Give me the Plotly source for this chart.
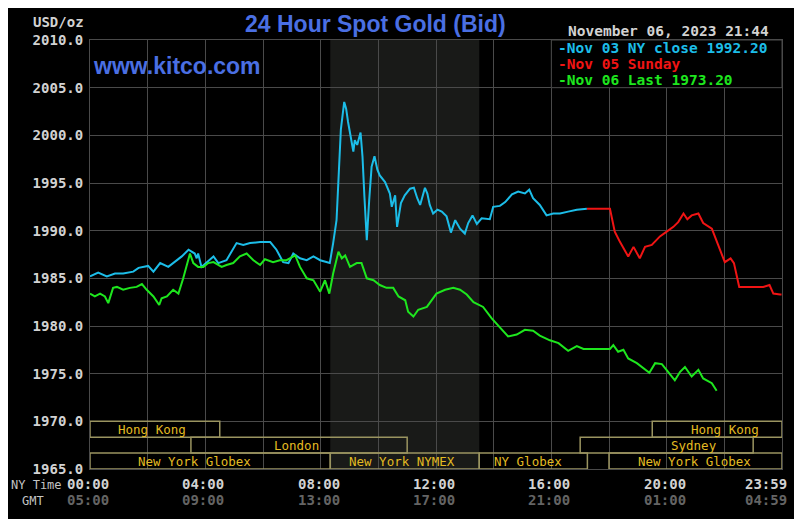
import plotly.graph_objects as go

# Times are minutes after midnight, New York time
NY_CLOSE_T = [0, 17, 35, 52, 69, 90, 101, 121, 132, 146, 163, 180, 191, 205, 218, 222, 225, 232,
              243, 257, 267, 284, 305, 319, 333, 354, 375, 388, 402, 413, 423, 437, 451, 465, 479,
              499, 506, 513, 517, 522, 529, 533, 537, 542, 548, 551, 556, 563, 567, 571, 576, 581,
              586, 592, 598, 603, 614, 624, 628, 635, 639, 647, 655, 666, 674, 681, 687, 697, 702,
              707, 714, 723, 732, 742, 751, 760, 770, 780, 787, 796, 805, 815, 832, 839, 853, 864,
              878, 891, 905, 914, 922, 936, 950, 964, 978, 995, 1013, 1034]
NY_CLOSE_V = [1985.2, 1985.6, 1985.2, 1985.5, 1985.5, 1985.7, 1986.1, 1986.3, 1985.7, 1986.6, 1986.2,
              1986.9, 1987.3, 1988.0, 1987.6, 1987.1, 1987.6, 1986.2, 1986.7, 1987.3, 1986.6, 1986.9,
              1988.7, 1988.5, 1988.7, 1988.8, 1988.8, 1988.0, 1986.7, 1986.6, 1987.6, 1987.1, 1986.9,
              1987.3, 1986.9, 1986.6, 1988.7, 1991.1, 1995.3, 2000.6, 2003.5, 2002.8, 2001.4, 1999.9,
              1998.3, 1999.5, 1999.0, 2000.3, 1997.8, 1993.6, 1989.0, 1993.2, 1996.7, 1997.8, 1996.4,
              1995.8, 1995.1, 1993.9, 1992.5, 1993.7, 1990.4, 1992.9, 1993.7, 1994.4, 1994.5, 1993.4,
              1992.7, 1994.5, 1993.9, 1992.7, 1991.8, 1992.2, 1992.0, 1991.5, 1989.8, 1991.1, 1990.2,
              1989.7, 1990.8, 1991.6, 1990.7, 1991.3, 1991.2, 1992.5, 1992.6, 1993.0, 1993.8, 1994.1,
              1993.9, 1994.3, 1993.4, 1992.7, 1991.6, 1991.8, 1991.8, 1992.0, 1992.2, 1992.3]

SUNDAY_T = [1034, 1082, 1092, 1103, 1120, 1131, 1144, 1155, 1169, 1186, 1200, 1214, 1224, 1235,
            1243, 1252, 1266, 1276, 1294, 1311, 1321, 1333, 1340, 1351, 1367, 1401, 1414, 1422,
            1436, 1439]
SUNDAY_V = [1992.3, 1992.3, 1989.9, 1988.8, 1987.3, 1988.3, 1987.1, 1988.3, 1988.5, 1989.4, 1989.9,
            1990.4, 1990.9, 1991.8, 1991.2, 1991.6, 1991.8, 1990.8, 1990.2, 1988.0, 1986.7, 1987.1,
            1986.6, 1984.1, 1984.1, 1984.1, 1984.3, 1983.4, 1983.3, 1983.3]

LAST_T = [0, 10, 21, 31, 38, 48, 56, 69, 83, 97, 108, 118, 132, 144, 149, 160, 173, 184, 194, 208,
          215, 225, 236, 246, 257, 274, 284, 298, 312, 326, 340, 354, 364, 381, 395, 409, 427, 437,
          451, 465, 479, 489, 498, 506, 517, 524, 531, 541, 555, 565, 576, 590, 603, 617, 631, 642,
          656, 662, 673, 683, 701, 721, 739, 756, 770, 784, 798, 818, 836, 853, 870, 888, 905, 922,
          936, 957, 975, 995, 1013, 1027, 1082, 1089, 1099, 1110, 1120, 1138, 1151, 1164, 1176,
          1190, 1203, 1217, 1228, 1238, 1252, 1266, 1276, 1294, 1304]
LAST_V = [1983.4, 1983.1, 1983.4, 1983.1, 1982.4, 1984.0, 1984.1, 1983.8, 1984.0, 1984.1, 1984.4,
          1983.8, 1983.1, 1982.2, 1982.9, 1983.1, 1983.8, 1983.4, 1985.0, 1987.6, 1986.6, 1986.2,
          1986.2, 1986.6, 1986.7, 1986.2, 1986.4, 1986.6, 1987.3, 1987.6, 1986.9, 1986.4, 1987.0,
          1986.7, 1986.9, 1986.9, 1987.4, 1986.2, 1985.0, 1984.8, 1983.6, 1984.8, 1983.4, 1985.5,
          1987.8, 1987.1, 1987.4, 1986.2, 1986.6, 1986.6, 1985.0, 1984.8, 1984.3, 1984.0, 1984.0,
          1983.1, 1982.7, 1981.5, 1981.0, 1981.7, 1982.0, 1983.4, 1983.8, 1984.0, 1983.8, 1983.3,
          1982.5, 1982.0, 1980.8, 1979.9, 1978.9, 1979.1, 1979.6, 1979.5, 1979.0, 1978.5, 1978.2,
          1977.4, 1977.9, 1977.6, 1977.6, 1978.0, 1977.3, 1977.5, 1976.6, 1976.1, 1975.6, 1975.1,
          1976.1, 1976.0, 1975.2, 1974.3, 1975.2, 1975.7, 1974.7, 1975.4, 1974.5, 1974.0, 1973.2]

SERIES_NAMES = ["Nov 03 NY close 1992.20", "Nov 05 Sunday", "Nov 06 Last 1973.20"]

# trading sessions: name, row (0 = bottom), start, end, where the label sits
SESSION_NAMES = ["Hong Kong", "Hong Kong", "London", "Sydney", "New York Globex",
                 "New York NYMEX", "NY Globex", "New York Globex"]
SESSION_ROW = [2, 2, 1, 1, 0, 0, 0, 0]
SESSION_START = [0, 1170, 210, 1020, 0, 500, 810, 1080]
SESSION_END = [270, 1440, 660, 1380, 500, 810, 1035, 1440]
SESSION_LABEL_AT = [128, 1322, 429, 1257, 217, 649, 911, 1257]

NYMEX_HOURS = (500, 810)

Y_TICKS = [1965, 1970, 1975, 1980, 1985, 1990, 1995, 2000, 2005, 2010]
X_TICKS = [0, 240, 480, 720, 960, 1200]
NY_LABELS = ["00:00", "04:00", "08:00", "12:00", "16:00", "20:00"]
GMT_LABELS = ["05:00", "09:00", "13:00", "17:00", "21:00", "01:00"]

MONO = "DejaVu Sans Mono"
GRID = "#4a4a4a"
COLORS = ["#1cbde8", "#f01414", "#1ee61e"]

# the page puts the figure 8px in from the top-left corner
OFF = 8
W, H = 788, 511
# plot area in page pixels: x 90..782, y 40..469
L, R, T, B = 90, 782, 40, 469


def px(x):
    return (x - L) / (R - L)


def py(y):
    return (B - y) / (B - T)


def note(x, y, text, font, xanchor="center", xref="paper", yref="paper", xshift=0):
    return dict(x=x, y=y, xref=xref, yref=yref, text=text, showarrow=False,
                xanchor=xanchor, yanchor="middle", xshift=xshift, font=font)


fig = go.Figure()
for t, v, c, name in zip([NY_CLOSE_T, SUNDAY_T, LAST_T], [NY_CLOSE_V, SUNDAY_V, LAST_V],
                         COLORS, SERIES_NAMES):
    fig.add_trace(go.Scatter(x=t, y=v, mode="lines", name=name,
                             line=dict(color=c, width=2), hoverinfo="skip"))

shapes = [
    dict(type="rect", xref="x", yref="paper", x0=NYMEX_HOURS[0], x1=NYMEX_HOURS[1], y0=0, y1=1,
         fillcolor="#191a18", line=dict(width=0), layer="below"),
    # legend cell
    dict(type="rect", xref="x", yref="y", x0=960, x1=1440, y0=2005, y1=2010,
         fillcolor="black", line=dict(color=GRID, width=1), layer="above"),
]
row_h = 5 / 3
for name, row, s, e in zip(SESSION_NAMES, SESSION_ROW, SESSION_START, SESSION_END):
    shapes.append(dict(type="rect", xref="x", yref="y", x0=s, x1=e,
                       y0=1965 + row * row_h, y1=1965 + (row + 1) * row_h,
                       line=dict(color="#9a9460", width=1.5), fillcolor="rgba(0,0,0,0)"))

bold = dict(family=MONO, size=14, color="#d2d2d2", weight="bold")
dim = dict(family=MONO, size=14, color="#646464", weight="bold")
plain = dict(family=MONO, size=12, color="#c4c4c4")
blue = dict(family="Liberation Sans", size=23, color="#4a6fe3", weight="bold")

ann = []
for name, row, at in zip(SESSION_NAMES, SESSION_ROW, SESSION_LABEL_AT):
    ann.append(note(at, 1965 + (row + 0.5) * row_h, name,
                    dict(family=MONO, size=12.5, color="#e3bb22"), xref="x", yref="y"))

for i, (name, c) in enumerate(zip(SERIES_NAMES, COLORS)):
    ann.append(note(px(556), py(48 + 16 * i), "-" + name,
                    dict(family=MONO, size=14.5, color=c, weight="bold"), xanchor="left"))

for t, ny, gmt in zip(X_TICKS, NY_LABELS, GMT_LABELS):
    ann.append(note(t, py(484), ny, bold, xref="x", xshift=-2))
    ann.append(note(t, py(500), gmt, dim, xref="x", xshift=-2))
ann.append(note(px(789), py(484), "23:59", bold, xanchor="right"))
ann.append(note(px(789), py(500), "04:59", dim, xanchor="right"))
ann.append(note(px(64), py(485), "NY Time", plain, xanchor="right"))
ann.append(note(px(33), py(501), "GMT", plain))
ann.append(note(px(86), py(22), "USD/oz", bold, xanchor="right"))
ann.append(note(px(375), py(24), "24 Hour Spot Gold (Bid)", blue))
ann.append(note(px(91), py(66), "www.kitco.com", blue, xanchor="left"))
ann.append(note(px(668), py(31), "November 06, 2023 21:44",
                dict(family=MONO, size=14.5, color="#d2d2d2", weight="bold")))

fig.update_layout(
    width=W, height=H,
    margin=dict(l=L - OFF, r=W - (R - OFF), t=T - OFF, b=H - (B - OFF)),
    paper_bgcolor="black", plot_bgcolor="black",
    showlegend=False,
    shapes=shapes, annotations=ann,
    xaxis=dict(range=[0, 1440], tickvals=list(range(0, 1441, 120)), showticklabels=False,
               showgrid=True, gridcolor=GRID, gridwidth=1, zeroline=False,
               showline=True, linecolor=GRID, linewidth=1, mirror=True),
    yaxis=dict(range=[1965, 2010], tickvals=Y_TICKS, tickformat=".1f",
               showgrid=True, gridcolor=GRID, gridwidth=1, zeroline=False,
               showline=True, linecolor=GRID, linewidth=1, mirror=True,
               ticks="outside", ticklen=3, tickcolor="rgba(0,0,0,0)",
               tickfont=bold),
)

fig.write_html("out.html")
